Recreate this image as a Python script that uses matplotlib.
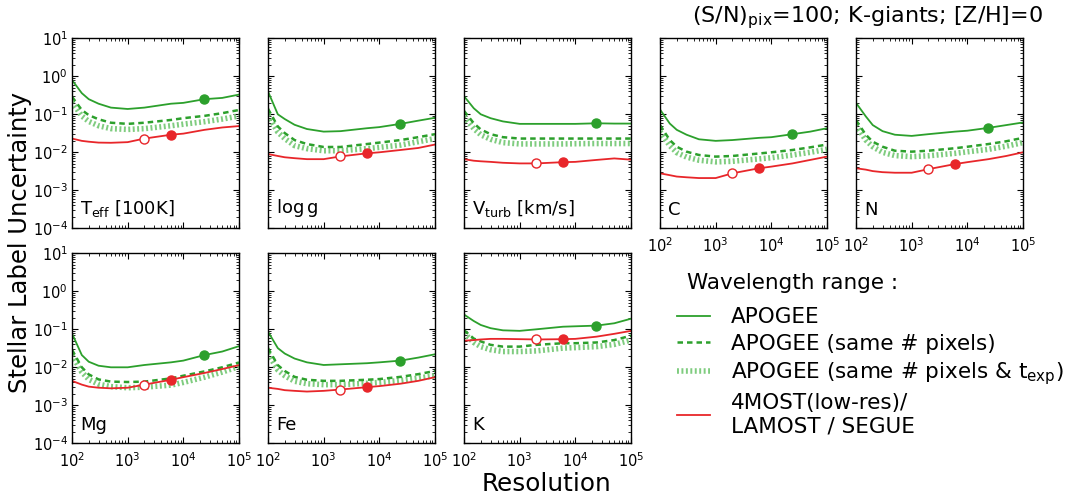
import numpy as np
import matplotlib
matplotlib.use("Agg")
import matplotlib.pyplot as plt
from matplotlib.lines import Line2D
from matplotlib.ticker import LogLocator, NullFormatter

plt.rcParams['font.family'] = ['DejaVu Sans']
plt.rcParams['mathtext.default'] = 'regular'

# Spectral resolution grid
resolution = [100, 150, 200, 300, 500, 1000, 2000, 6000, 10000, 24000, 50000, 100000]

# Survey reference resolutions (marker positions on the grid)
apogee_res = 24000
lowres_open = 2000
lowres_filled = 6000

labels = ['T$_{eff}$ [100K]', 'log$\\,$g', 'V$_{turb}$ [km/s]', 'C', 'N', 'Mg', 'Fe', 'K']

# Uncertainties: APOGEE range
apogee = {
    'Teff': [0.80, 0.36, 0.25, 0.19, 0.15, 0.138, 0.15, 0.19, 0.20, 0.25, 0.27, 0.33],
    'logg': [0.40, 0.10, 0.075, 0.053, 0.041, 0.035, 0.036, 0.043, 0.046, 0.056, 0.068, 0.081],
    'vturb': [0.30, 0.144, 0.10, 0.079, 0.065, 0.056, 0.056, 0.056, 0.056, 0.058, 0.057, 0.057],
    'C': [0.134, 0.057, 0.039, 0.029, 0.022, 0.020, 0.021, 0.024, 0.025, 0.030, 0.035, 0.043],
    'N': [0.20, 0.088, 0.052, 0.036, 0.029, 0.027, 0.030, 0.035, 0.037, 0.044, 0.052, 0.061],
    'Mg': [0.078, 0.021, 0.014, 0.011, 0.010, 0.010, 0.0115, 0.0135, 0.015, 0.021, 0.026, 0.036],
    'Fe': [0.087, 0.032, 0.023, 0.017, 0.0135, 0.0115, 0.012, 0.0128, 0.0135, 0.015, 0.018, 0.022],
    'K': [0.245, 0.165, 0.13, 0.107, 0.094, 0.091, 0.10, 0.117, 0.12, 0.125, 0.144, 0.19],
}

# APOGEE range, same number of pixels
apogee_pix = {
    'Teff': [0.29, 0.13, 0.095, 0.074, 0.060, 0.056, 0.060, 0.071, 0.079, 0.091, 0.107, 0.13],
    'logg': [0.14, 0.048, 0.032, 0.021, 0.0165, 0.0138, 0.0138, 0.0165, 0.018, 0.021, 0.025, 0.030],
    'vturb': [0.123, 0.058, 0.040, 0.030, 0.025, 0.023, 0.023, 0.023, 0.023, 0.023, 0.023, 0.023],
    'C': [0.052, 0.021, 0.014, 0.0104, 0.0085, 0.0077, 0.0080, 0.0093, 0.010, 0.0115, 0.0135, 0.016],
    'N': [0.070, 0.029, 0.019, 0.014, 0.011, 0.0104, 0.011, 0.0128, 0.014, 0.0165, 0.0195, 0.024],
    'Mg': [0.029, 0.010, 0.0065, 0.0048, 0.0042, 0.0041, 0.0042, 0.0051, 0.006, 0.0078, 0.010, 0.0134],
    'Fe': [0.032, 0.0114, 0.008, 0.0056, 0.0047, 0.0044, 0.0044, 0.0047, 0.0049, 0.0056, 0.0066, 0.008],
    'K': [0.095, 0.057, 0.048, 0.039, 0.035, 0.035, 0.039, 0.043, 0.043, 0.045, 0.052, 0.068],
}

# APOGEE range, same number of pixels and exposure time
apogee_pix_texp = {
    'Teff': [0.21, 0.09, 0.065, 0.05, 0.042, 0.040, 0.042, 0.05, 0.055, 0.064, 0.075, 0.09],
    'logg': [0.095, 0.034, 0.023, 0.015, 0.0125, 0.011, 0.011, 0.0125, 0.0135, 0.0155, 0.019, 0.023],
    'vturb': [0.087, 0.042, 0.029, 0.022, 0.018, 0.0166, 0.0166, 0.0166, 0.0168, 0.017, 0.017, 0.017],
    'C': [0.035, 0.015, 0.0098, 0.0075, 0.0062, 0.0056, 0.0058, 0.0067, 0.0072, 0.0085, 0.010, 0.012],
    'N': [0.052, 0.021, 0.014, 0.010, 0.0082, 0.0077, 0.0081, 0.0094, 0.0103, 0.012, 0.0145, 0.018],
    'Mg': [0.021, 0.0075, 0.0048, 0.0036, 0.0031, 0.0029, 0.0030, 0.0034, 0.004, 0.0055, 0.0075, 0.0105],
    'Fe': [0.023, 0.0085, 0.006, 0.0043, 0.0037, 0.0035, 0.0035, 0.0038, 0.004, 0.0045, 0.0052, 0.006],
    'K': [0.079, 0.045, 0.035, 0.029, 0.026, 0.026, 0.027, 0.032, 0.033, 0.035, 0.040, 0.052],
}

# 4MOST (low-res) / LAMOST / SEGUE range
lowres = {
    'Teff': [0.023, 0.020, 0.019, 0.018, 0.0178, 0.0185, 0.023, 0.029, 0.031, 0.039, 0.045, 0.049],
    'logg': [0.009, 0.008, 0.0074, 0.0070, 0.0066, 0.0066, 0.0078, 0.0094, 0.010, 0.0115, 0.013, 0.016],
    'vturb': [0.0066, 0.006, 0.0058, 0.0056, 0.0053, 0.0051, 0.0051, 0.0055, 0.0056, 0.0063, 0.0069, 0.0064],
    'C': [0.0028, 0.0025, 0.0023, 0.0022, 0.0021, 0.0021, 0.0028, 0.0038, 0.0042, 0.0051, 0.0063, 0.0077],
    'N': [0.0038, 0.0035, 0.0032, 0.0030, 0.0029, 0.0029, 0.0036, 0.0049, 0.0055, 0.0066, 0.0080, 0.010],
    'Mg': [0.0044, 0.0035, 0.0031, 0.0029, 0.0028, 0.0029, 0.0035, 0.0047, 0.0055, 0.0071, 0.0090, 0.0114],
    'Fe': [0.0029, 0.0027, 0.0025, 0.0024, 0.0023, 0.0024, 0.0026, 0.0030, 0.0032, 0.0037, 0.0044, 0.0055],
    'K': [0.050, 0.052, 0.054, 0.056, 0.056, 0.055, 0.054, 0.055, 0.056, 0.064, 0.076, 0.091],
}

keys = ['Teff', 'logg', 'vturb', 'C', 'N', 'Mg', 'Fe', 'K']

GREEN = '#2ca02c'
LIGHT_GREEN = '#7fcc7f'
RED = '#e8262a'

DASH = (0, (2.2, 1.6))
DOTS = (0, (0.35, 0.45))

W, H = 1070, 498
fig = plt.figure(figsize=(W / 100, H / 100), dpi=100)

col_left = [72, 268, 464, 660, 856]
ax_w = 167
row_top = [38.3, 253.3]
ax_h = 190

positions = [(0, 0), (0, 1), (0, 2), (0, 3), (0, 4), (1, 0), (1, 1), (1, 2)]

x = np.array(resolution)
i_ap = resolution.index(apogee_res)
i_lo = resolution.index(lowres_open)
i_lf = resolution.index(lowres_filled)

for k, lab, (r, c) in zip(keys, labels, positions):
    left = col_left[c] / W
    bottom = 1 - (row_top[r] + ax_h) / H
    ax = fig.add_axes([left, bottom, ax_w / W, ax_h / H])

    y1 = np.array(apogee[k])
    y2 = np.array(apogee_pix[k])
    y3 = np.array(apogee_pix_texp[k])
    y4 = np.array(lowres[k])

    ax.plot(x, y3, color=LIGHT_GREEN, lw=4.0, ls=DOTS)
    ax.plot(x, y2, color=GREEN, lw=1.8, ls=DASH)
    ax.plot(x, y1, color=GREEN, lw=1.3)
    ax.plot(x, y4, color=RED, lw=1.3)

    ax.plot(x[i_ap], y1[i_ap], 'o', color=GREEN, ms=6.5, mec=GREEN)
    ax.plot(x[i_lf], y4[i_lf], 'o', color=RED, ms=6.5, mec=RED)
    ax.plot(x[i_lo], y4[i_lo], 'o', mfc='white', mec=RED, ms=6.5, mew=1.0)

    ax.set_xscale('log')
    ax.set_yscale('log')
    ax.set_xlim(100, 1e5)
    ax.set_ylim(1e-4, 10)
    ax.xaxis.set_major_locator(LogLocator(base=10, numticks=10))
    ax.yaxis.set_major_locator(LogLocator(base=10, numticks=10))
    ax.xaxis.set_minor_locator(LogLocator(base=10, subs=np.arange(2, 10), numticks=10))
    ax.yaxis.set_minor_locator(LogLocator(base=10, subs=np.arange(2, 10), numticks=10))
    ax.xaxis.set_minor_formatter(NullFormatter())
    ax.yaxis.set_minor_formatter(NullFormatter())
    ax.tick_params(which='both', direction='in', top=True, right=True, labelsize=10.5)
    ax.tick_params(which='major', length=4, width=0.8)
    ax.tick_params(which='minor', length=2, width=0.6)
    ax.tick_params(axis='x', pad=6)
    ax.tick_params(axis='y', pad=3)
    for s in ax.spines.values():
        s.set_linewidth(1.0)

    show_x = (r == 1) or (c >= 3)
    show_y = (c == 0)
    if not show_x:
        ax.tick_params(labelbottom=False)
    if not show_y:
        ax.tick_params(labelleft=False)

    ax.text(0.05, 0.05, lab, transform=ax.transAxes, fontsize=13,
            ha='left', va='bottom')

fig.text(20 / W, 1 - 242 / H, 'Stellar Label Uncertainty', rotation=90,
         fontsize=17.5, ha='center', va='center')
fig.text(547 / W, 1 - 484 / H, 'Resolution', fontsize=17.8, ha='center', va='center')
fig.text(1043 / W, 1 - 18 / H, '(S/N)$_{pix}$=100; K-giants; [Z/H]=0',
         fontsize=16, ha='right', va='center')

# Legend block: heading plus entries
fig.text(687 / W, 1 - 283 / H, 'Wavelength range :', fontsize=15.5,
         ha='left', va='center')

handles = [
    Line2D([], [], color=GREEN, lw=1.3),
    Line2D([], [], color=GREEN, lw=1.8, ls=DASH),
    Line2D([], [], color=LIGHT_GREEN, lw=4.0, ls=DOTS),
    Line2D([], [], color=RED, lw=1.3),
]
leg_labels = ['APOGEE', 'APOGEE (same # pixels)',
              'APOGEE (same # pixels & t$_{exp}$)',
              '4MOST(low-res)/\nLAMOST / SEGUE']
leg = fig.legend(handles, leg_labels,
                 loc='upper left', bbox_to_anchor=(658 / W, 1 - 288 / H),
                 frameon=False, fontsize=15.5,
                 handlelength=1.5, handletextpad=1.0, labelspacing=0.29)

fig.savefig('out.png', dpi=100)
